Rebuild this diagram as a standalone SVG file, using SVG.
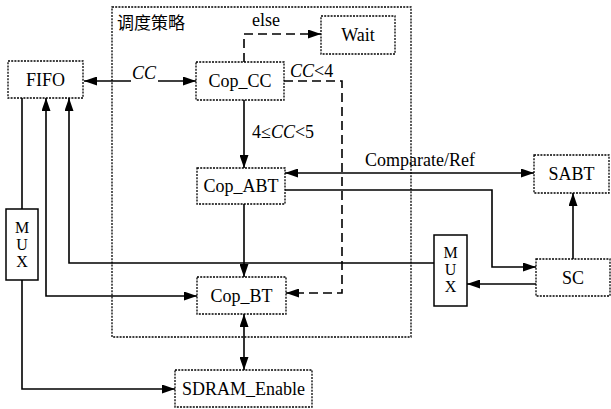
<svg xmlns="http://www.w3.org/2000/svg" width="611" height="409" viewBox="0 0 611 409">
<defs>
<marker id="ah" viewBox="0 0 13 9" refX="13" refY="4.5" markerWidth="13" markerHeight="9" markerUnits="userSpaceOnUse" orient="auto-start-reverse">
<path d="M0,0 L13,4.5 L0,9 Z" fill="#000"/>
</marker>
</defs>
<style>
.box{fill:#fff;stroke:#000;stroke-width:1.3;stroke-dasharray:2 1.2}
.mux{fill:#fff;stroke:#000;stroke-width:1.5}
.t{font-family:"Liberation Serif","Times New Roman",serif;font-size:18px;fill:#000}
.m{font-family:"Liberation Serif","Times New Roman",serif;font-size:18px;fill:#000;text-anchor:middle}
.x{font-family:"Liberation Serif","Times New Roman",serif;font-size:16px;fill:#000;text-anchor:middle}
.c{text-anchor:middle}
.it{font-style:italic}
.ln{fill:none;stroke:#000;stroke-width:1.6}
.dl{fill:none;stroke:#000;stroke-width:1.6;stroke-dasharray:9 5}
</style>
<rect width="611" height="409" fill="#fff"/>
<g id="strategy">
<rect x="112" y="7" width="299" height="330" class="box" style="fill:none"/>
<text x="117" y="29" style="font-family:'Noto Sans CJK SC',sans-serif;font-size:17px">调度策略</text>
</g>
<g id="connectors">
<path class="ln" d="M131,81 H84" marker-end="url(#ah)"/>
<path class="ln" d="M158,81 H196" marker-end="url(#ah)"/>
<path class="dl" d="M244,62 V34 H321" marker-end="url(#ah)"/>
<path class="dl" d="M284,81 H342 V293 H286" marker-end="url(#ah)"/>
<path class="ln" d="M244,100 V168" marker-end="url(#ah)"/>
<path class="ln" d="M285,173 H534" marker-start="url(#ah)" marker-end="url(#ah)"/>
<path class="ln" d="M285,190 H492 V267 H536" marker-end="url(#ah)"/>
<path class="ln" d="M573,259 V193" marker-end="url(#ah)"/>
<path class="ln" d="M536,284 H467" marker-end="url(#ah)"/>
<path class="ln" d="M434,263 H69 V98" marker-end="url(#ah)"/>
<path class="ln" d="M46,98 V296 H197" marker-start="url(#ah)" marker-end="url(#ah)"/>
<path class="ln" d="M244,204 V277" marker-end="url(#ah)"/>
<path class="ln" d="M244,314 V370" marker-start="url(#ah)" marker-end="url(#ah)"/>
<path class="ln" d="M22,98 V209"/>
<path class="ln" d="M22,280 V389 H175" marker-end="url(#ah)"/>
<text x="144" y="79" class="t c"><tspan class="it">CC</tspan></text>
<text x="266" y="26" class="t c">else</text>
<text x="290" y="77" class="t"><tspan class="it">CC</tspan>&lt;4</text>
<text x="252" y="138" class="t">4≤<tspan class="it">CC</tspan>&lt;5</text>
<text x="420" y="166" class="t c">Comparate/Ref</text>
</g>
<g id="fifo"><rect x="8" y="61" width="75" height="37" class="box"/><text x="45.5" y="86" class="m">FIFO</text></g>
<g id="cop_cc"><rect x="196" y="62" width="88" height="38" class="box"/><text x="240" y="87" class="m">Cop_CC</text></g>
<g id="wait"><rect x="321" y="16" width="74" height="38" class="box"/><text x="358" y="41" class="m">Wait</text></g>
<g id="cop_abt"><rect x="197" y="168" width="88" height="36" class="box"/><text x="241" y="192" class="m">Cop_ABT</text></g>
<g id="cop_bt"><rect x="197" y="277" width="89" height="37" class="box"/><text x="241.5" y="302" class="m">Cop_BT</text></g>
<g id="sdram"><rect x="175" y="370" width="137" height="37" class="box"/><text x="243.5" y="395" class="m">SDRAM_Enable</text></g>
<g id="sabt"><rect x="534" y="155" width="75" height="38" class="box"/><text x="571.5" y="180" class="m">SABT</text></g>
<g id="sc"><rect x="536" y="259" width="74" height="37" class="box"/><text x="573" y="284" class="m">SC</text></g>
<g id="mux_right"><rect x="434" y="235" width="33" height="71" class="mux"/>
<text x="450.5" y="258" class="x">M</text><text x="450.5" y="275" class="x">U</text><text x="450.5" y="292" class="x">X</text></g>
<g id="mux_left"><rect x="6" y="209" width="32" height="71" class="mux"/>
<text x="22" y="233" class="x">M</text><text x="22" y="250" class="x">U</text><text x="22" y="267" class="x">X</text></g>
</svg>
